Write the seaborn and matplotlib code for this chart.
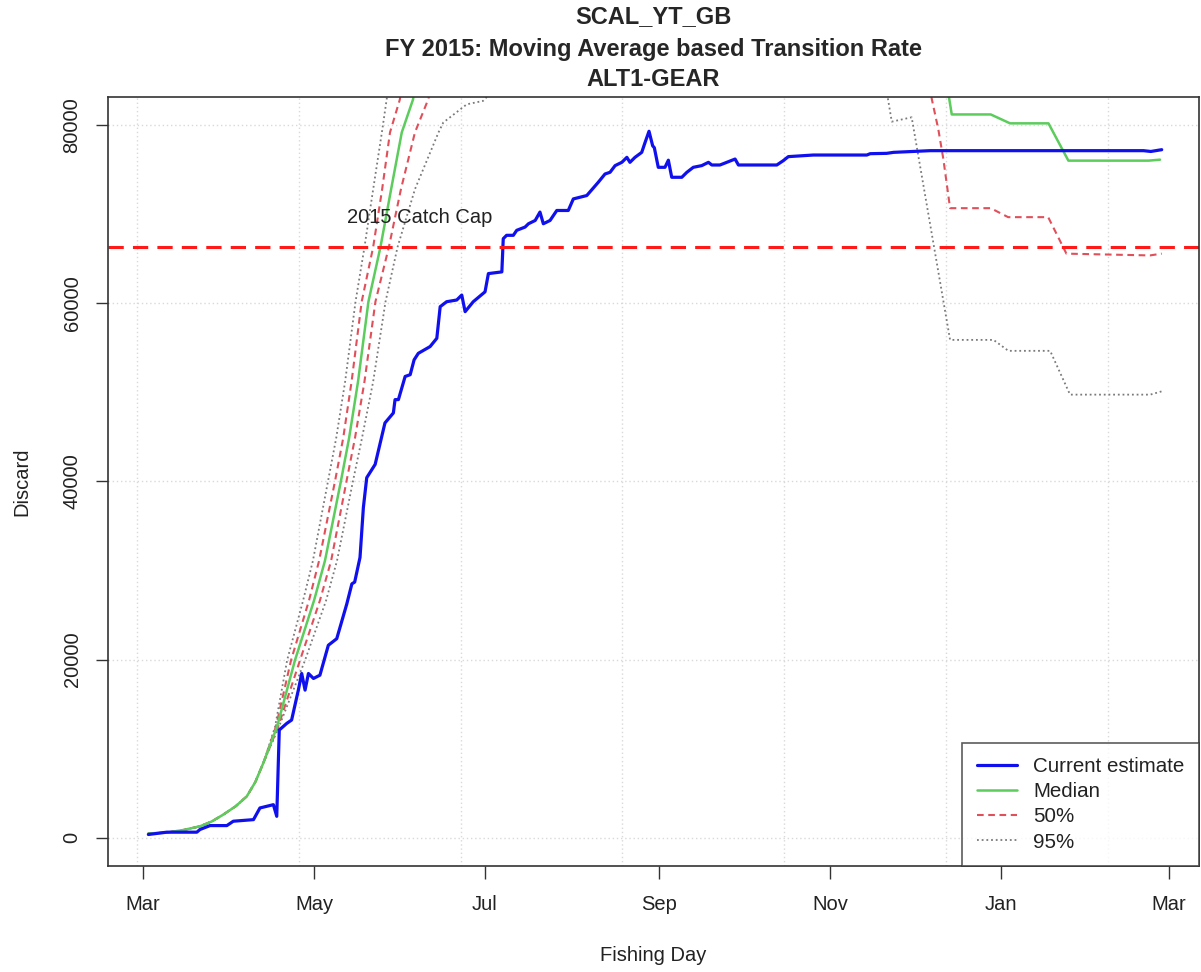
import numpy as np
import pandas as pd
import seaborn as sns
import matplotlib.pyplot as plt
from matplotlib.lines import Line2D

# days counted from 1 Mar 2015
blue_day = [1.9, 8.5, 19.2, 20.3, 23.9, 29.9, 32.2, 39.4, 41.7, 46.5, 47.7, 48.6, 51.3, 53.0,
            55.4, 56.6, 57.8, 59.0, 60.8, 63.1, 66.1, 69.1, 72.7, 74.5, 75.5, 77.4, 78.6, 79.8,
            82.8, 86.3, 89.3, 89.9, 91.1, 93.5, 95.3, 96.7, 98.2, 102.4, 104.8, 106.0, 108.3,
            111.9, 113.7, 114.9, 117.8, 122.0, 123.2, 128.0, 128.5, 129.7, 132.1, 133.3, 136.3,
            137.5, 139.9, 141.6, 142.8, 145.2, 147.6, 151.7, 153.5, 158.3, 162.4, 164.8, 166.6,
            168.4, 170.8, 172.6, 173.7, 175.5, 177.9, 179.1, 180.5, 181.8, 182.4, 183.8, 186.2,
            187.4, 188.6, 192.2, 194.0, 196.3, 199.3, 201.7, 202.9, 205.8, 208.8, 211.2, 212.4,
            226.1, 228.4, 230.2, 239.1, 258.2, 259.4, 265.3, 267.7, 280.8, 356.9, 359.5, 363.4]
blue_val = [340, 600, 600, 900, 1340, 1340, 1830, 2010, 3320, 3690, 2380, 12080, 12830, 13200,
            16560, 18430, 16560, 18430, 17870, 18240, 21600, 22340, 26260, 28500, 28700, 31470,
            37070, 40430, 41920, 46580, 47700, 49200, 49200, 51800, 52000, 53670, 54400, 55160,
            56090, 59640, 60200, 60390, 60950, 59080, 60200, 61310, 63360, 63550, 67280, 67660,
            67660, 68220, 68590, 68960, 69330, 70270, 68960, 69330, 70450, 70450, 71750, 72130,
            73620, 74550, 74740, 75490, 75860, 76420, 75860, 76420, 76980, 78100, 79350, 77720,
            77500, 75300, 75300, 76100, 74180, 74180, 74740, 75300, 75490, 75860, 75560, 75560,
            75930, 76230, 75560, 75560, 76050, 76500, 76680, 76680, 76830, 76870, 76980, 77170,
            77170, 77080, 77280]

# all projections share the start of the season
early_day = [1.8, 8.5, 14.5, 20.3, 24.5, 28.6, 33.0, 37.0, 40.0, 42.9]
early_val = [450, 560, 850, 1260, 1800, 2570, 3500, 4620, 6200, 8360]

# rising part, same levels for every quantile
rise_val = [12450, 19920, 26630, 31100, 40060, 44870, 51240, 60200, 66350, 72840, 79220, 82910]
med_rise = [47.8, 54.2, 61.0, 64.9, 70.6, 73.5, 76.7, 80.4, 84.7, 88.5, 92.3, 96.3]
u95_rise = [47.1, 51.4, 57.1, 60.6, 66.0, 68.9, 72.1, 75.8, 79.0, 82.1, 85.2, 86.9]
u50_rise = [47.4, 52.8, 59.2, 62.8, 68.5, 71.4, 74.4, 78.0, 82.1, 85.3, 88.1, 91.6]
l50_rise = [48.2, 56.0, 63.1, 67.1, 72.6, 75.6, 79.0, 82.9, 87.7, 92.0, 97.0, 101.7]
l95_rise = [48.5, 57.8, 65.3, 69.2, 74.9, 78.1, 82.1, 86.5, 90.8, 97.0, 105.4]

# later part of the season (values above the top of the axis are off the chart)
med_late_day = [100.0, 284.0, 288.5, 302.4, 309.3, 323.0, 330.1, 358.7, 362.8]
med_late_val = [90000, 90000, 81240, 81240, 80240, 80240, 76050, 76050, 76160]
u50_late_day = [95.0]
u50_late_val = [90000]
u95_late_day = [90.0]
u95_late_val = [90000]
l50_late_day = [106.0, 279.0, 281.4, 283.7, 285.5, 287.9, 302.4, 308.6, 322.9, 329.4, 359.2, 363.4]
l50_late_val = [88000, 88000, 82940, 79580, 76230, 70710, 70710, 69700, 69700, 65600, 65400, 65600]
l95_late_day = [107.1, 115.5, 121.3, 128.0, 262.0, 267.1, 274.2, 287.9, 303.4, 308.7, 323.6,
                330.7, 359.3, 363.4]
l95_late_val = [80330, 82380, 82760, 85000, 90000, 80430, 80920, 55910, 55910, 54680, 54680,
                49760, 49760, 50130]

catch_cap = 66400
month_labels = ["Mar", "May", "Jul", "Sep", "Nov", "Jan", "Mar"]
month_dates = ["2015-03-01", "2015-05-01", "2015-07-01", "2015-09-01", "2015-11-01",
               "2016-01-01", "2016-03-01"]
y_ticks = [0, 20000, 40000, 60000, 80000]

sns.set_style("white")
plt.rcParams['font.family'] = ['Liberation Sans', 'DejaVu Sans']

fig = plt.figure(figsize=(12.01, 9.72), dpi=100)
ax = fig.add_axes([108 / 1201, 1 - 866 / 972, 1091 / 1201, 769 / 972])

base = pd.Timestamp("2015-03-01")
tick_pos = [(pd.Timestamp(d) - base).days for d in month_dates]

grid_col = "#d9d9d9"
for yv in y_ticks:
    ax.axhline(yv, color=grid_col, lw=1, ls=(0, (1, 2)), zorder=0)
for gx in np.arange(7) * 57.75 - 2.25:
    ax.axvline(gx, color=grid_col, lw=1, ls=(0, (1, 2)), zorder=0)

gray = "#7a7a7a"
red50 = "#e0505a"
green = "#5ccc5c"
blue = "#1010ee"


def series(rise_day, late_day, late_val):
    d = early_day + rise_day + late_day
    v = early_val + rise_val[:len(rise_day)] + late_val
    return d, v


curves = [
    (series(l95_rise, l95_late_day, l95_late_val), gray, 1.3, (1, 1.6)),
    (series(u95_rise, u95_late_day, u95_late_val), gray, 1.3, (1, 1.6)),
    (series(l50_rise, l50_late_day, l50_late_val), red50, 1.5, (3.2, 2.2)),
    (series(u50_rise, u50_late_day, u50_late_val), red50, 1.5, (3.2, 2.2)),
    (series(med_rise, med_late_day, med_late_val), green, 1.8, None),
]
for (d, v), col, lw, dash in curves:
    sns.lineplot(x=d, y=v, ax=ax, color=col, lw=lw, sort=False, estimator=None)
    if dash is not None:
        ax.lines[-1].set_dashes(dash)

sns.lineplot(x=blue_day, y=blue_val, ax=ax, color=blue, lw=2.3, sort=False, estimator=None)

ax.axhline(catch_cap, color="#ff1a1a", lw=2.2, dashes=(5, 3))
ax.text(98.8, 69700, "2015 Catch Cap", ha="center", va="center", fontsize=14.5, color="#222222")

ax.set_xlim(-12.5, 376.7)
ax.set_ylim(-3200, 83200)
ax.set_xticks(tick_pos)
ax.set_xticklabels(month_labels)
ax.set_yticks(y_ticks)
ax.set_yticklabels([str(v) for v in y_ticks], rotation=90, va="center")
ax.tick_params(axis="both", direction="out", length=9, width=1, color="#333333",
               labelsize=14.5, labelcolor="#222222", bottom=True, left=True)
ax.tick_params(axis="x", pad=12)
ax.tick_params(axis="y", pad=10)
for sp in ax.spines.values():
    sp.set_color("#333333")
    sp.set_linewidth(1.2)

ax.set_xlabel("Fishing Day", fontsize=14.5, color="#222222")
ax.set_ylabel("Discard", fontsize=14.5, color="#222222")
ax.xaxis.set_label_coords(0.5, (866 - 955) / 769)
ax.yaxis.set_label_coords((22 - 108) / 1091, 0.5)
ax.xaxis.label.set_va("center")
ax.yaxis.label.set_va("center")

handles = [Line2D([], [], color=blue, lw=2.3),
           Line2D([], [], color=green, lw=1.8),
           Line2D([], [], color=red50, lw=1.5, dashes=(3.2, 2.2)),
           Line2D([], [], color=gray, lw=1.3, dashes=(1, 1.6))]
leg = ax.legend(handles, ["Current estimate", "Median", "50%", "95%"], loc="lower right",
                borderaxespad=0, fontsize=14.8, frameon=True, fancybox=False,
                handlelength=1.95, handletextpad=0.8, labelspacing=0.3, borderpad=0.7)
leg.get_frame().set_edgecolor("#333333")
leg.get_frame().set_linewidth(1.2)
for t in leg.get_texts():
    t.set_color("#222222")

cx = (108 + 1199) / 2 / 1201
fig.text(cx, 1 - 23 / 972, "SCAL_YT_GB", ha="center", va="baseline", fontsize=17, fontweight="bold")
fig.text(cx, 1 - 56 / 972, "FY 2015: Moving Average based Transition Rate", ha="center",
         va="baseline", fontsize=17, fontweight="bold")
fig.text(cx, 1 - 86 / 972, "ALT1-GEAR", ha="center", va="baseline", fontsize=17, fontweight="bold")

fig.savefig("out.png", dpi=100)
